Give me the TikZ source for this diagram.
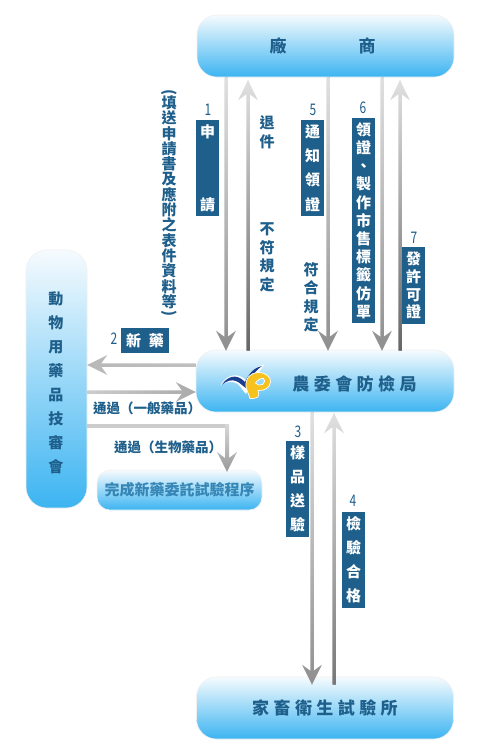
\documentclass[tikz,border=0pt]{standalone}
\usepackage{fontspec}
\setmainfont{Noto Sans CJK TC}
\usetikzlibrary{calc,arrows.meta}
\definecolor{ink}{HTML}{1F5F8B}
\definecolor{inkl}{HTML}{3585B5}
\definecolor{navy}{HTML}{1B3F8F}
\definecolor{gold}{HTML}{F7C21E}
\definecolor{skytop}{HTML}{F6FBFE}
\definecolor{sky}{HTML}{3CB4F1}
\definecolor{gpale}{HTML}{E0E0E0}
\definecolor{gdown}{HTML}{8F8F8F}
\definecolor{gup}{HTML}{666666}
\definecolor{gupb}{HTML}{777777}
\definecolor{ghA}{HTML}{B8B8B8}
\definecolor{ghB}{HTML}{C0C0C0}
\definecolor{ghC}{HTML}{CCCCCC}
\definecolor{ghD}{HTML}{AAAAAA}
\definecolor{gbA}{HTML}{D8D8D8}
\definecolor{gbB}{HTML}{999999}
\tikzset{
  panel/.style={rounded corners=20pt,draw=black!6,line width=0.6pt,top color=skytop,bottom color=sky,shading=axis,inner sep=0pt,text=ink,font=\bfseries\fontsize{17}{17}\selectfont},
  tag/.style={fill=ink,text=white,inner sep=0pt,text width=23pt,align=center,font=\bfseries\fontsize{15}{#1}\selectfont},
  plain/.style={text=ink,inner sep=0pt,align=center,font=\bfseries\fontsize{15}{#1}\selectfont},
  numb/.style={text=ink,inner sep=0pt,font=\fontsize{16}{16}\selectfont},
  base/.style={line width=3pt,-{Stealth[length=14pt,width=10pt,inset=3pt,line width=0pt]}}
}
\newcommand{\nm}[1]{\scalebox{0.75}[1]{#1}}
% vertical connector: from, to, colour at top, colour at bottom, sign (+1 down / -1 up)
\newcommand{\vconn}[5]{%
  \draw[base,draw=#3!50!#4,fill=#3!50!#4] (#1) -- (#2);
  \path[top color=#3,bottom color=#4,shading=axis]
    (#2) -- ($(#2)+(10,-20*#5)$) -- ($(#2)+(1.75,-14*#5)$) -- ($(#1)+(1.75,0)$) -- ($(#1)+(-1.75,0)$)
    -- ($(#2)+(-1.75,-14*#5)$) -- ($(#2)+(-10,-20*#5)$) -- cycle;}
% horizontal connector: from, to, colour left, colour right, sign (+1 rightwards / -1 leftwards)
\newcommand{\hconn}[5]{%
  \draw[base,draw=#3!50!#4,fill=#3!50!#4] (#1) -- (#2);
  \path[left color=#3,right color=#4,shading=axis]
    (#2) -- ($(#2)+(-20*#5,10)$) -- ($(#2)+(-14*#5,1.75)$) -- ($(#1)+(0,1.75)$) -- ($(#1)+(0,-1.75)$)
    -- ($(#2)+(-14*#5,-1.75)$) -- ($(#2)+(-20*#5,-10)$) -- cycle;}
\begin{document}
\begin{tikzpicture}[x=1pt,y=-1pt]
\useasboundingbox (0,0) rectangle (477,753);
\fill[white] (0,0) rectangle (477,753);
% boxes
\node[panel,minimum width=257pt,minimum height=62pt] (firm) at (325.5,46) {\raisebox{-2pt}{廠\hspace{72pt}商\hspace{6pt}}};
\node[panel,minimum width=258pt,minimum height=62pt] (baphiq) at (325,381) {};
\node[panel,minimum width=257pt,minimum height=62pt] (lab) at (325,708) {\raisebox{-3pt}{\addfontfeature{LetterSpace=26}家畜衛生試驗所}};
\node[panel,minimum width=61pt,minimum height=258pt,rounded corners=21pt] (board) at (56.5,379) {};
\node[panel,minimum width=165pt,minimum height=40pt,rounded corners=13pt,draw=black!5,text=inkl,font=\bfseries\fontsize{15}{15}\selectfont] (done) at (179.5,490) {完成新藥委託試驗程序};
\node[text=ink,inner sep=0pt,font=\bfseries\fontsize{17}{17}\selectfont] (baphiqt) at (354.5,384) {\addfontfeature{LetterSpace=26}農委會防檢局};
\node[text=ink,inner sep=0pt,align=center,font=\bfseries\fontsize{15}{24}\selectfont] (boardt) at (56,383) {動\\物\\用\\藥\\品\\技\\審\\會};
\coordinate (firmin) at ($(firm.south)+(0,3)$);
\coordinate (labin) at ($(lab.north)+(0,8)$);
\coordinate (midin) at ($(baphiq.north)+(0,1)$);
\coordinate (midout) at ($(baphiq.south)+(0,1)$);
\coordinate (donein) at ($(done.north)+(0,2)$);
% logo
\fill[white] (220.5,385) .. controls (226,376) and (236,371) .. (246,380) .. controls (250,372) and (257,365) .. (264,365) -- (250,385) -- (246,394) -- (238,384) .. controls (233,381) and (227,381) .. (220.5,385) -- cycle;
\fill[navy] (222,384.5) .. controls (227,377) and (236,372.5) .. (245,382) .. controls (249,373) and (255,367) .. (262,366) .. controls (255,371) and (250,378) .. (247,389) .. controls (243,386) and (239,382) .. (236,381) .. controls (232,379.5) and (227,380.5) .. (222,384.5) -- cycle;
\fill[gold,even odd rule,draw=white,line width=0.7pt] (246,387) .. controls (245,378) and (251,372.5) .. (258,372.5) .. controls (266,372.5) and (271,377) .. (270.5,382) .. controls (270,388) and (264,391) .. (258,390.5) .. controls (259,393) and (259,395) .. (258,397) .. controls (255,398.5) and (252,399) .. (250,398.5) .. controls (249,395) and (247,391) .. (246,387) -- cycle
   (255.5,383) .. controls (257,380) and (261,378) .. (263.5,378.5) .. controls (265.5,379.5) and (265,383) .. (262.5,384.5) .. controls (260,385.5) and (257,385.5) .. (255.5,383) -- cycle;
% connectors
\vconn{226,0 |- firm.south}{226,0 |- midin}{gpale}{gdown}{1}
\vconn{248,0 |- midin}{248,0 |- firmin}{gpale}{gup}{-1}
\vconn{328,0 |- firm.south}{328,0 |- midin}{gpale}{gdown}{1}
\vconn{382,0 |- firm.south}{382,0 |- midin}{gpale}{gdown}{1}
\vconn{400,0 |- midin}{400,0 |- firmin}{gpale}{gup}{-1}
\vconn{312,0 |- baphiq.south}{312,0 |- labin}{gpale}{gdown}{1}
\vconn{334,0 |- labin}{334,0 |- midout}{gpale}{gupb}{-1}
\hconn{baphiq.west |- 0,365}{board.east |- 0,365}{ghA}{ghB}{-1}
\hconn{board.east |- 0,392}{baphiq.west |- 0,392}{ghC}{ghD}{1}
\draw[line width=4pt,ghC] (board.east |- 0,426) -- (229,426);
\draw[base,draw=gbB,fill=gbB] (227,426) -- (227,0 |- donein);
\path[top color=gbA,bottom color=gbB,shading=axis]
  (227,0 |- donein) -- (237,452) -- (229,458) -- (229,424) -- (225,424) -- (225,458) -- (217,452) -- cycle;
% labels
\node[tag=24.3,minimum height=96pt] (t1) at (207.5,168) {申\\~\\~\\請};
\node[tag=24.3,minimum height=96pt] (t5) at (312.5,168) {通\\知\\領\\證};
\node[tag=18.2,minimum height=205pt] (t6) at (363.5,220.5) {領\\證\\、\\製\\作\\市\\售\\標\\籤\\仿\\單};
\node[tag=17.7,minimum height=77pt] (t7) at (413.5,285.5) {發\\許\\可\\證};
\node[tag=24,minimum height=96pt] (t3) at (297.5,489) {樣\\品\\送\\驗};
\node[tag=24,minimum height=96pt] (t4) at (353.5,560) {檢\\驗\\合\\格};
\node[fill=ink,text=white,inner sep=0pt,minimum width=48pt,minimum height=25pt,font=\bfseries\fontsize{15}{15}\selectfont] (t2) at (145,340.5) {新\hspace{8pt}藥};
\node[numb] (n1) at (208,110) {\nm{1}};
\node[numb] (n5) at (313,110) {\nm{5}};
\node[numb] (n6) at (363,108) {\nm{6}};
\node[numb] (n7) at (414,238) {\nm{7}};
\node[numb] (n3) at (298,432) {\nm{3}};
\node[numb] (n4) at (353,501) {\nm{4}};
\node[numb] (n2) at (114,339) {\nm{2}};
\node[plain=18.5] (q1) at (267,132.5) {退\\件};
\node[plain=18.5] (q2) at (267,257.5) {不\\符\\規\\定};
\node[plain=18.5] (q3) at (311,297) {符\\合\\規\\定};
\node[plain=15.3] (q4) at (169,204) {\rotatebox[origin=c]{-90}{(}\\[-4pt]填\\送\\申\\請\\書\\及\\應\\附\\之\\表\\件\\資\\料\\等\\[-4pt]\rotatebox[origin=c]{-90}{)}};
\node[text=ink,inner sep=0pt,font=\bfseries\fontsize{13.5}{13.5}\selectfont] (q5) at (147,408) {通過（一般藥品）};
\node[text=ink,inner sep=0pt,font=\bfseries\fontsize{13.5}{13.5}\selectfont] (q6) at (168,447) {通過（生物藥品）};
\end{tikzpicture}
\end{document}
